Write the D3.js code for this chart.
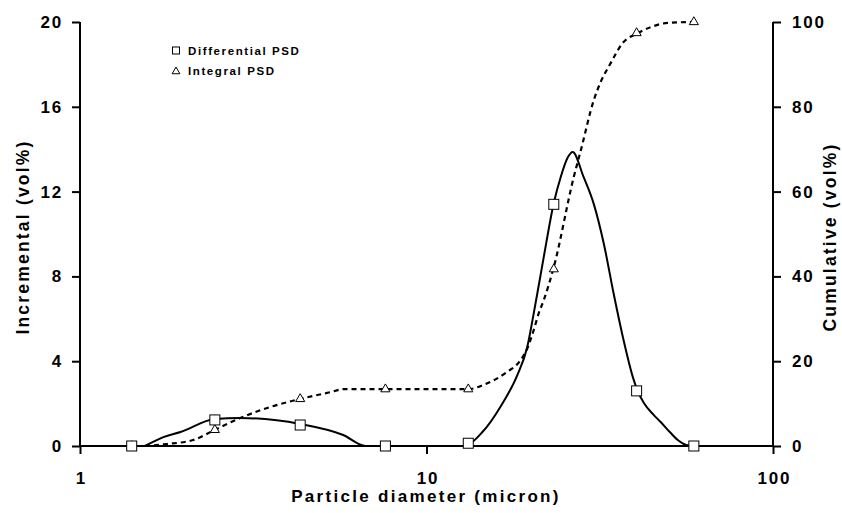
<!DOCTYPE html>
<html>
<head>
<meta charset="utf-8">
<script src="https://cdn.jsdelivr.net/npm/d3@7"></script>
<style>
  body { margin: 0; background: #fff; }
  svg text { font-family: "Liberation Sans", Arial, sans-serif; font-weight: bold; fill: #000; }
</style>
</head>
<body>
<div id="chart"></div>
<script>
// measured points (markers)
const diamPts = [1.41, 2.45, 4.32, 7.61, 13.2, 23.3, 40.4, 59.1];
const diffPts = [0, 1.23, 0.99, 0, 0.13, 11.4, 2.6, 0];
const cumPts = [0, 3.8, 11.1, 13.4, 13.4, 41.7, 97.4, 100];

// smoothed differential curve
const diffCurveX = [1.54, 1.74, 1.95, 2.45, 2.90, 4.32, 5.75, 6.67, 10, 12.8, 14.5, 16.4, 18.3, 19.5, 20.4, 21.8, 23.3, 24.4, 25.6, 26.4, 28.4, 30.4, 32.5, 34.7, 37.1, 39.4, 40.7, 42.4, 45.3, 47.4, 50.7, 53.1, 56.1, 59.1];
const diffCurveY = [0, 0.42, 0.66, 1.27, 1.32, 1.04, 0.52, 0, 0, 0, 0.66, 1.89, 3.35, 4.62, 6.27, 8.92, 11.46, 12.69, 13.63, 13.87, 12.69, 11.41, 9.53, 7.17, 4.95, 3.25, 2.59, 2.03, 1.46, 1.13, 0.61, 0.28, 0.05, 0];

// smoothed cumulative curve
const cumCurveX = [1.54, 1.78, 2.12, 2.45, 2.90, 3.54, 4.32, 5.28, 5.75, 7.61, 13.2, 14.6, 17.1, 18.5, 19.6, 20.4, 21.1, 21.8, 23.3, 26.6, 27.9, 30.4, 31.8, 34.0, 36.8, 40.7, 44.4, 49.7, 58.7];
const cumCurveY = [0, 0.47, 1.4, 3.8, 6.6, 9.2, 11.1, 12.7, 13.4, 13.4, 13.4, 14.4, 17.5, 19.8, 23.3, 27.4, 31.4, 34.4, 42.2, 63.4, 69.8, 81.6, 85.8, 90.3, 95.0, 97.4, 98.8, 99.8, 100];

const leftTicks = [0, 4, 8, 12, 16, 20];
const rightTicks = [0, 20, 40, 60, 80, 100];
const xTicks = [1, 10, 100];
const legendLabels = ["Differential PSD", "Integral PSD"];

const width = 842, height = 513;
const svg = d3.select("#chart").append("svg")
    .attr("width", width)
    .attr("height", height);

const x = d3.scaleLog().domain([1, 100]).range([80, 773]);
const yL = d3.scaleLinear().domain([0, 20]).range([446, 22]);
const yR = d3.scaleLinear().domain([0, 100]).range([446, 22]);

// curves
const diffLine = d3.line()
    .x(d => x(d[0]))
    .y(d => yL(d[1]))
    .curve(d3.curveMonotoneX);
const cumLine = d3.line()
    .x(d => x(d[0]))
    .y(d => yR(d[1]))
    .curve(d3.curveMonotoneX);

svg.append("path")
    .datum(cumCurveX.map((v, i) => [v, cumCurveY[i]]))
    .attr("fill", "none")
    .attr("stroke", "#000")
    .attr("stroke-width", 2.2)
    .attr("stroke-dasharray", "5,4")
    .attr("d", cumLine);

svg.append("path")
    .datum(diffCurveX.map((v, i) => [v, diffCurveY[i]]))
    .attr("fill", "none")
    .attr("stroke", "#000")
    .attr("stroke-width", 2)
    .attr("d", diffLine);

// axes
const axisL = d3.axisLeft(yL).tickValues(leftTicks).tickSize(8).tickPadding(9);
const axisR = d3.axisRight(yR).tickValues(rightTicks).tickSize(8).tickPadding(11);
const axisB = d3.axisBottom(x).tickValues(xTicks).tickFormat(d3.format("d")).tickSize(8).tickPadding(18);

function styleAxis(g) {
    g.select(".domain").attr("stroke", "#000").attr("stroke-width", 2);
    g.selectAll(".tick line").attr("stroke", "#000").attr("stroke-width", 2);
    g.selectAll(".tick text")
        .style("font-family", "'Liberation Sans', Arial, sans-serif")
        .style("font-weight", "bold")
        .style("font-size", "17px")
        .style("letter-spacing", "1.8px")
        .attr("fill", "#000");
}

svg.append("g").attr("transform", "translate(80,0)").call(axisL).call(styleAxis)
    .call(g => g.select(".domain").attr("d", "M0,446V22"));
svg.append("g").attr("transform", "translate(773,0)").call(axisR).call(styleAxis)
    .call(g => g.select(".domain").attr("d", "M0,446V22"));
svg.append("g").attr("transform", "translate(0,446)").call(axisB).call(styleAxis)
    .call(g => g.select(".domain").attr("d", "M80,0H773"))
    .call(g => g.selectAll(".tick text").attr("dx", "0.9px"));

// markers
const triangle = d3.symbol().type(d3.symbolTriangle).size(36);

svg.append("g").selectAll("path")
    .data(diamPts.map((v, i) => [v, cumPts[i]]))
    .join("path")
    .attr("d", triangle)
    .attr("transform", d => `translate(${x(d[0])},${yR(d[1])})`)
    .attr("fill", "#fff")
    .attr("stroke", "#000")
    .attr("stroke-width", 1);

svg.append("g").selectAll("rect")
    .data(diamPts.map((v, i) => [v, diffPts[i]]))
    .join("rect")
    .attr("x", d => x(d[0]) - 5)
    .attr("y", d => yL(d[1]) - 5)
    .attr("width", 10)
    .attr("height", 10)
    .attr("fill", "#fff")
    .attr("stroke", "#000")
    .attr("stroke-width", 1);

// legend
const legend = svg.append("g").attr("transform", "translate(176,0)");
legend.append("rect")
    .attr("x", -3.5).attr("y", 47).attr("width", 7).attr("height", 7)
    .attr("fill", "#fff").attr("stroke", "#000").attr("stroke-width", 1);
legend.append("path")
    .attr("d", d3.symbol().type(d3.symbolTriangle).size(26))
    .attr("transform", "translate(0,71.5)")
    .attr("fill", "#fff").attr("stroke", "#000").attr("stroke-width", 1);
legend.selectAll("text.lbl")
    .data(legendLabels)
    .join("text")
    .attr("class", "lbl")
    .attr("x", 12)
    .attr("y", (d, i) => 55 + i * 20)
    .style("font-size", "11.5px")
    .style("letter-spacing", "1.6px")
    .text(d => d);

// axis titles
svg.append("text")
    .attr("transform", "translate(29,237) rotate(-90)")
    .attr("text-anchor", "middle")
    .style("font-size", "17.5px")
    .style("letter-spacing", "2.2px")
    .text("Incremental (vol%)");

svg.append("text")
    .attr("transform", "translate(836,237) rotate(-90)")
    .attr("text-anchor", "middle")
    .style("font-size", "17.5px")
    .style("letter-spacing", "2.2px")
    .text("Cumulative (vol%)");

svg.append("text")
    .attr("x", 426)
    .attr("y", 502)
    .attr("text-anchor", "middle")
    .style("font-size", "17px")
    .style("letter-spacing", "2.3px")
    .text("Particle diameter (micron)");
</script>
</body>
</html>
